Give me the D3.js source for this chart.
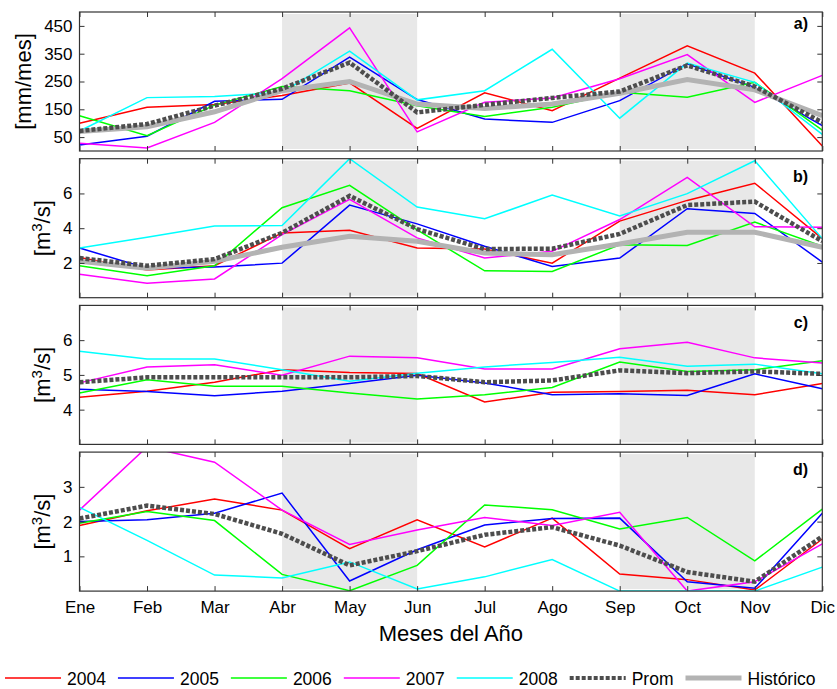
<!DOCTYPE html>
<html>
<head>
<meta charset="utf-8">
<script src="https://cdn.jsdelivr.net/npm/d3@7/dist/d3.min.js"></script>
<style>
  body { margin: 0; background: #fff; }
  text { font-family: "Liberation Sans", Arial, sans-serif; }
</style>
</head>
<body>
<svg id="chart" width="837" height="689"></svg>
<script>
var months = ["Ene", "Feb", "Mar", "Abr", "May", "Jun", "Jul", "Ago", "Sep", "Oct", "Nov", "Dic"];
var years = ["2004", "2005", "2006", "2007", "2008"];
var yearColors = ["#ff0000", "#0000ff", "#00ff00", "#ff00ff", "#00ffff"];
var shadedMonths = [["Abr", "Jun"], ["Sep", "Nov"]];

// a) lluvia [mm/mes], una fila por año
var lluviaAnios = [
  [100, 157, 167, 200, 245, 81, 209, 145, 262, 378, 280, 18],
  [22, 53, 179, 186, 338, 185, 115, 103, 181, 314, 229, 91],
  [127, 55, 165, 232, 217, 163, 124, 157, 211, 193, 247, 75],
  [28, 11, 103, 260, 443, 69, 175, 191, 260, 347, 175, 272],
  [72, 192, 196, 211, 359, 184, 217, 366, 118, 316, 247, 60]
];
var lluviaProm = [72, 97, 163, 224, 318, 139, 166, 191, 214, 308, 232, 103];
var lluviaHist = [70, 87, 141, 217, 250, 169, 153, 169, 208, 257, 220, 127];

// b) caudal [m3/s]
var caudalBAnios = [
  [2.32, 1.60, 1.84, 3.73, 3.88, 2.86, 2.80, 1.99, 4.41, 5.60, 6.59, 3.40],
  [2.86, 1.70, 1.76, 1.99, 5.33, 4.25, 2.96, 1.80, 2.28, 5.12, 4.85, 2.05],
  [1.84, 1.26, 1.84, 5.18, 6.47, 3.90, 1.55, 1.51, 3.05, 3.00, 4.35, 2.96],
  [1.35, 0.83, 1.08, 3.63, 5.66, 3.44, 2.28, 2.67, 4.50, 6.92, 4.08, 4.06],
  [2.86, 3.48, 4.12, 4.16, 8.00, 5.22, 4.54, 5.91, 4.70, 5.99, 7.88, 3.40]
];
var caudalBProm = [2.28, 1.84, 2.22, 3.73, 5.86, 3.95, 2.80, 2.82, 3.67, 5.33, 5.53, 3.25];
var caudalBHist = [2.09, 1.70, 2.09, 2.90, 3.54, 3.25, 2.57, 2.47, 3.09, 3.77, 3.77, 2.90];

// c) caudal [m3/s]
var caudalCAnios = [
  [4.36, 4.53, 4.79, 5.15, 5.07, 5.04, 4.22, 4.50, 4.52, 4.56, 4.43, 4.75],
  [4.59, 4.52, 4.40, 4.53, 4.75, 4.99, 4.77, 4.43, 4.46, 4.41, 5.03, 4.60],
  [4.48, 4.86, 4.67, 4.67, 4.48, 4.31, 4.43, 4.64, 5.37, 5.10, 5.15, 5.41],
  [4.77, 5.23, 5.29, 4.99, 5.54, 5.49, 5.17, 5.17, 5.75, 5.94, 5.49, 5.34],
  [5.68, 5.46, 5.46, 5.15, 4.82, 5.05, 5.23, 5.36, 5.51, 5.25, 5.31, 5.03]
];
var caudalCProm = [4.79, 4.93, 4.93, 4.93, 4.93, 4.97, 4.79, 4.84, 5.13, 5.05, 5.10, 5.03];

// d) caudal [m3/s]
var caudalDAnios = [
  [1.89, 2.31, 2.65, 2.33, 1.22, 2.05, 1.27, 2.10, 0.49, 0.33, 0.03, 1.50],
  [2.00, 2.05, 2.24, 2.82, 0.29, 1.19, 1.90, 2.09, 2.10, 0.27, 0.08, 2.24],
  [1.95, 2.29, 2.03, 0.48, 0.01, 0.74, 2.48, 2.34, 1.79, 2.12, 0.87, 2.36],
  [2.33, 4.15, 3.71, 2.33, 1.34, 1.76, 2.12, 1.89, 2.27, 0.00, 0.27, 1.36],
  [2.41, 1.46, 0.46, 0.38, 0.84, 0.06, 0.41, 0.91, 0.00, 0.00, 0.00, 0.69]
];
var caudalDProm = [2.09, 2.46, 2.22, 1.65, 0.74, 1.15, 1.62, 1.84, 1.31, 0.55, 0.27, 1.57];

var panels = [
  {tag: "a)", unit: "mm", domain: [0, 500], ticks: [50, 150, 250, 350, 450], series: lluviaAnios, prom: lluviaProm, hist: lluviaHist, tagDy: 17},
  {tag: "b)", unit: "m3", domain: [0, 8], ticks: [2, 4, 6], series: caudalBAnios, prom: caudalBProm, hist: caudalBHist, tagDy: 23},
  {tag: "c)", unit: "m3", domain: [3, 7], ticks: [4, 5, 6], series: caudalCAnios, prom: caudalCProm, hist: null, tagDy: 23},
  {tag: "d)", unit: "m3", domain: [0, 4], ticks: [1, 2, 3], series: caudalDAnios, prom: caudalDProm, hist: null, tagDy: 23}
];

var svg = d3.select("#chart");
var axisColor = "#333";
var promColor = "#4d4d4d", histColor = "#b3b3b3";
var xLeft = 79.5, xRight = 822.3;
var panelTop = 12, panelStep = 146.7, panelH = 139;

var x = d3.scalePoint().domain(months).range([xLeft, xRight]);

panels.forEach(function (p, i) {
  var top = panelTop + i * panelStep, bottom = top + panelH;
  var y = d3.scaleLinear().domain(p.domain).range([bottom, top]);
  var g = svg.append("g");

  svg.append("clipPath").attr("id", "clip" + i)
    .append("rect")
    .attr("x", xLeft).attr("y", top)
    .attr("width", xRight - xLeft).attr("height", panelH);

  // meses sombreados
  shadedMonths.forEach(function (s) {
    g.append("rect")
      .attr("x", x(s[0]))
      .attr("y", top + 2)
      .attr("width", x(s[1]) - x(s[0]))
      .attr("height", panelH - 4)
      .attr("fill", "#e8e8e8");
  });

  var line = d3.line()
    .x(function (d, j) { return x(months[j]); })
    .y(function (d) { return y(d); });

  var lines = g.append("g").attr("clip-path", "url(#clip" + i + ")");

  p.series.forEach(function (s, k) {
    lines.append("path")
      .attr("d", line(s))
      .attr("fill", "none")
      .attr("stroke", yearColors[k])
      .attr("stroke-width", 1.5);
  });

  if (p.hist) {
    lines.append("path")
      .attr("d", line(p.hist))
      .attr("fill", "none")
      .attr("stroke", histColor)
      .attr("stroke-width", 5);
  }

  lines.append("path")
    .attr("d", line(p.prom))
    .attr("fill", "none")
    .attr("stroke", promColor)
    .attr("stroke-width", 4.5)
    .attr("stroke-dasharray", "4,2");

  // ejes
  var fmt = d3.format("~g");
  var left = g.append("g")
    .attr("transform", "translate(" + xLeft + ",0)")
    .call(d3.axisLeft(y).tickValues(p.ticks).tickFormat(fmt).tickSize(-5).tickPadding(7));
  g.append("g")
    .attr("transform", "translate(" + xRight + ",0)")
    .call(d3.axisRight(y).tickValues(p.ticks).tickSize(-5).tickFormat(""));
  g.append("g")
    .attr("transform", "translate(0," + top + ")")
    .call(d3.axisTop(x).tickSize(-5).tickFormat(""));
  var bot = g.append("g")
    .attr("transform", "translate(0," + bottom + ")")
    .call(d3.axisBottom(x).tickSize(-5).tickPadding(10));
  if (i < panels.length - 1) bot.selectAll("text").remove();

  g.selectAll(".domain").remove();
  g.selectAll(".tick line").attr("stroke", axisColor);
  g.selectAll(".tick text").attr("font-size", 17).attr("fill", "#000")
    .style("font-family", "'Liberation Sans', Arial, sans-serif");

  g.append("rect")
    .attr("x", xLeft).attr("y", top)
    .attr("width", xRight - xLeft).attr("height", panelH)
    .attr("fill", "none")
    .attr("stroke", axisColor)
    .attr("stroke-width", 1.2);

  var maxW = 0;
  left.selectAll("text").each(function () { maxW = Math.max(maxW, this.getComputedTextLength()); });

  var yl = svg.append("text")
    .attr("transform", "translate(" + (xLeft - 7 - maxW - 13) + "," + (top + panelH / 2) + ") rotate(-90)")
    .attr("text-anchor", "middle")
    .attr("font-size", 22);
  if (p.unit == "mm") {
    yl.text("[mm/mes]");
  } else {
    yl.append("tspan").text("[m");
    yl.append("tspan").attr("dy", -8).attr("font-size", 15).text("3");
    yl.append("tspan").attr("dy", 8).text("/s]");
  }

  svg.append("text")
    .attr("x", 808)
    .attr("y", top + p.tagDy)
    .attr("text-anchor", "end")
    .attr("font-size", 16)
    .attr("font-weight", "bold")
    .text(p.tag);
});

svg.append("text")
  .attr("x", (xLeft + xRight) / 2)
  .attr("y", 641)
  .attr("text-anchor", "middle")
  .attr("font-size", 22)
  .text("Meses del Año");

// leyenda
var legendItems = years.map(function (yr, k) {
  return {name: yr, color: yearColors[k], width: 1.5, dash: null};
});
legendItems.push({name: "Prom", color: promColor, width: 4, dash: "4,2"});
legendItems.push({name: "Histórico", color: histColor, width: 5, dash: null});

var lx = 5;
legendItems.forEach(function (it) {
  svg.append("line")
    .attr("x1", lx).attr("x2", lx + 56)
    .attr("y1", 678).attr("y2", 678)
    .attr("stroke", it.color)
    .attr("stroke-width", it.width)
    .attr("stroke-dasharray", it.dash);
  var t = svg.append("text")
    .attr("x", lx + 62)
    .attr("y", 684.5)
    .attr("font-size", 17.5)
    .text(it.name);
  lx += 62 + t.node().getComputedTextLength() + 12;
});
</script>
</body>
</html>
